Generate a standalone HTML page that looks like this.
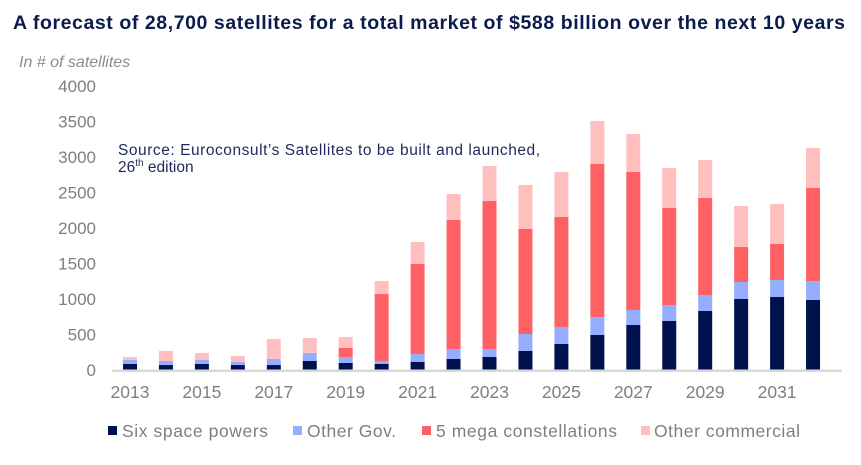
<!DOCTYPE html>
<html><head><meta charset="utf-8"><style>
body{margin:0;background:#fff;width:861px;height:460px;overflow:hidden;font-family:"Liberation Sans",sans-serif}
</style></head><body>
<svg id="c" width="861" height="460" font-family="Liberation Sans, sans-serif">
<text x="13" y="29" font-size="19.5" font-weight="bold" fill="#0c1b4d" textLength="832">A forecast of 28,700 satellites for a total market of $588 billion over the next 10 years</text>
<text x="19" y="67" font-size="16" font-style="italic" fill="#8c8c8c">In # of satellites</text>
<text x="118" y="155" font-size="15.5" fill="#1f2a5c" textLength="422">Source: Euroconsult’s Satellites to be built and launched,</text>
<text x="118" y="172" font-size="15.5" fill="#1f2a5c">26<tspan font-size="10" dy="-6">th</tspan><tspan dy="6"> edition</tspan></text>
<g id="yt"></g><g id="bars"></g><g id="xt"></g>
<rect x="112" y="369.5" width="730" height="2.5" fill="#d9d9d9"/>
<g font-size="17.5" fill="#7f7f7f">
<rect x="108" y="426" width="9" height="9" fill="#00124d"/>
<text x="122" y="437" textLength="146">Six space powers</text>
<rect x="293" y="426" width="9" height="9" fill="#94adff"/>
<text x="307" y="437" textLength="89">Other Gov.</text>
<rect x="422" y="426" width="9" height="9" fill="#ff6063"/>
<text x="436" y="437" textLength="181">5 mega constellations</text>
<rect x="641" y="426" width="9" height="9" fill="#ffbfbf"/>
<text x="654" y="437" textLength="146">Other commercial</text>
</g>
</svg>
<script>
const years=[2013,2014,2015,2016,2017,2018,2019,2020,2021,2022,2023,2024,2025,2026,2027,2028,2029,2030,2031,2032];
const sixPowers=[85,70,85,70,70,127,99,85,113,155,183,268,366,493,634,690,831,1000,1028,986];
const otherGov=[56,57,56,43,85,113,84,42,112,141,113,239,240,253,211,225,225,239,240,267];
const mega=[0,0,0,0,0,0,127,943,1268,1817,2084,1479,1549,2155,1944,1367,1367,493,507,1310];
const otherComm=[42,141,99,84,282,211,155,184,310,366,493,620,634,606,535,563,535,578,563,564];
const yTicks=[0,500,1000,1500,2000,2500,3000,3500,4000];
const xLabels=[2013,2015,2017,2019,2021,2023,2025,2027,2029,2031];
const NS="http://www.w3.org/2000/svg";
const y=v=>370-v*0.071;
const x=i=>130+i*35.95;
const mk=(t,a,p)=>{const e=document.createElementNS(NS,t);for(const k in a)e.setAttribute(k,a[k]);p.appendChild(e);return e;};
const yt=document.getElementById('yt'),bars=document.getElementById('bars'),xt=document.getElementById('xt');
yTicks.forEach(v=>{const t=mk('text',{x:96,y:y(v)+6,'text-anchor':'end','font-size':17,fill:'#7f7f7f'},yt);t.textContent=v;

});
xLabels.forEach(yr=>{const i=years.indexOf(yr);const t=mk('text',{x:x(i),y:398,'text-anchor':'middle','font-size':17.5,fill:'#7f7f7f'},xt);t.textContent=yr;

});
const series=[[sixPowers,'#00124d','six'],[otherGov,'#94adff','gov'],[mega,'#ff6063','mega'],[otherComm,'#ffbfbf','comm']];
years.forEach((yr,i)=>{let base=0;series.forEach(([arr,col,nm])=>{const v=arr[i];if(v>0){const r=mk('rect',{x:x(i)-7,y:y(base+v),width:14,height:y(base)-y(base+v),fill:col},bars);

}base+=v;});});
</script>
</body></html>
